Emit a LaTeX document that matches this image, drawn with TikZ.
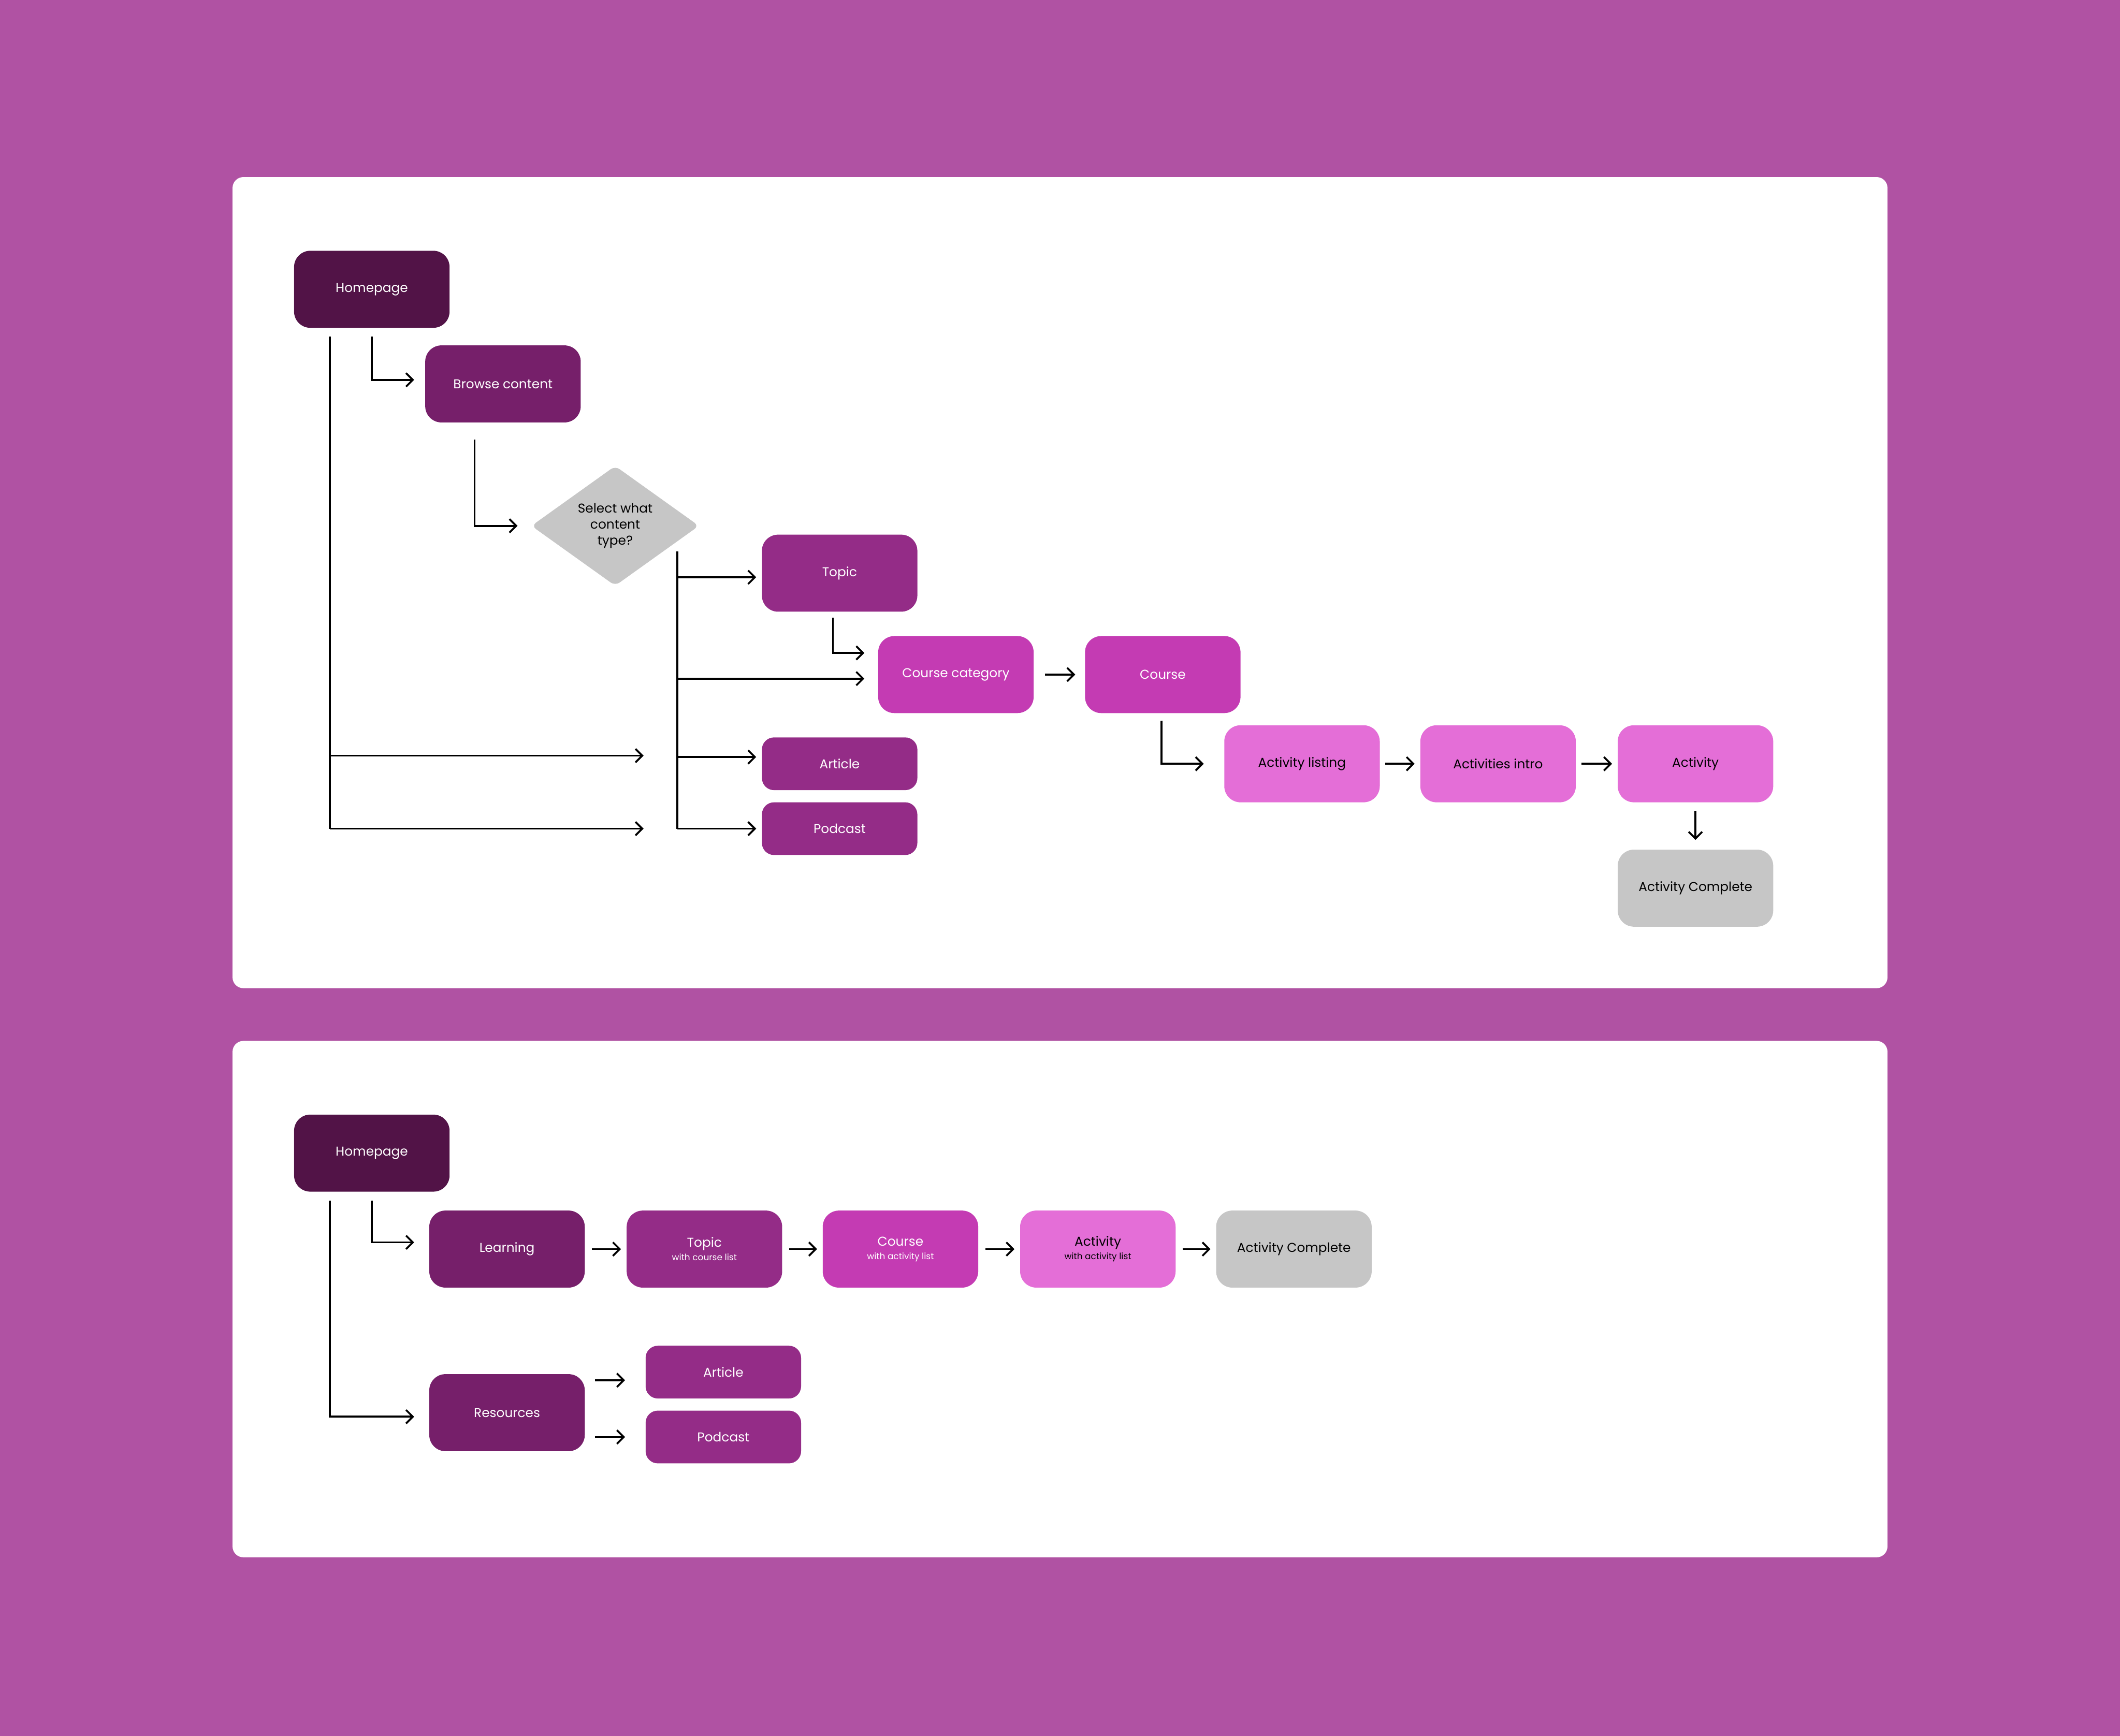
\documentclass[tikz,border=0pt]{standalone}
\usepackage{fontspec}
\setmainfont{Poppins}
\usetikzlibrary{arrows.meta,shapes.geometric}
\definecolor{bgp}{HTML}{B052A3}
\definecolor{cA}{HTML}{521347}
\definecolor{cB}{HTML}{761F6A}
\definecolor{cC}{HTML}{942C87}
\definecolor{cD}{HTML}{C43BB3}
\definecolor{cE}{HTML}{E46ED7}
\definecolor{cG}{HTML}{C6C6C6}
\tikzset{
 box/.style={rounded corners=12pt,minimum width=115pt,minimum height=57pt,inner sep=2pt,align=center,font=\fontsize{9.5}{11}\selectfont,text=white},
 sbox/.style={box,minimum height=39pt,rounded corners=9pt},
 lk/.style={line width=1.4pt,black},
 ar/.style={lk,-{Straight Barb[length=5pt,width=10pt]}},
 sub/.style={font=\fontsize{6.5}{8}\selectfont}
}
\begin{document}
\begin{tikzpicture}[x=1pt,y=-1pt]
\fill[bgp] (0,0) rectangle (1568,1284);
\useasboundingbox (0,0) rectangle (1568,1284);
\fill[white,rounded corners=8pt] (172,131) rectangle (1396,731);
\fill[white,rounded corners=8pt] (172,770) rectangle (1396,1152);
% panel 1
\node[box,fill=cA] (hp) at (275,214) {Homepage};
\node[box,fill=cB] (bc) at (372,284) {Browse content};
\node[diamond,fill=cG,minimum width=124pt,minimum height=86pt,inner sep=0pt,align=center,font=\fontsize{9.5}{12}\selectfont,rounded corners=4pt] (dm) at (455,389) {Select what\\content\\type?};
\node[box,fill=cC] (tp) at (621,424) {Topic};
\node[box,fill=cD] (cc) at (707,499) {Course category};
\node[box,fill=cD] (co) at (860,499) {Course};
\node[sbox,fill=cC] (ar1) at (621,565) {Article};
\node[sbox,fill=cC] (pc1) at (621,613) {Podcast};
\node[box,fill=cE,text=black] (al) at (963,565) {Activity listing};
\node[box,fill=cE,text=black] (ai) at (1108,565) {Activities intro};
\node[box,fill=cE,text=black] (ac) at (1254,565) {Activity};
\node[box,fill=cG,text=black] (acp) at (1254,657) {Activity Complete};
\coordinate (f1) at (476,559);
\coordinate (f2) at (476,613);
\draw[ar] (275,249) -- (275,281) -- ([xshift=-8pt]bc.west |- 0,281);
\draw[lk] (244,249) -- (244,613);
\draw[ar] (244,559) -- (f1);
\draw[ar] (244,613) -- (f2);
\draw[ar] (351,325) -- (351,389) -- ([xshift=-10pt]dm.west);
\draw[lk] (501,408) -- (501,613);
\draw[ar] (501,427) -- ([xshift=-4pt]tp.west |- 0,427);
\draw[ar] (501,502) -- ([xshift=-10pt]cc.west |- 0,502);
\draw[ar] (501,560) -- ([xshift=-4pt]ar1.west |- 0,560);
\draw[ar] (501,613) -- ([xshift=-4pt]pc1.west);
\draw[ar] (616,457) -- (616,483) -- ([xshift=-10pt]cc.west |- 0,483);
\draw[ar] ([xshift=8pt]cc.east) -- ([xshift=-7pt]co.west);
\draw[ar] (859,533) -- (859,565) -- ([xshift=-15pt]al.west);
\draw[ar] ([xshift=4pt]al.east) -- ([xshift=-4pt]ai.west);
\draw[ar] ([xshift=4pt]ai.east) -- ([xshift=-4pt]ac.west);
\draw[ar] ([yshift=-6pt]ac.south) -- ([yshift=7pt]acp.north);
% panel 2
\node[box,fill=cA] (hp2) at (275,853) {Homepage};
\node[box,fill=cB] (ln) at (375,924) {Learning};
\node[box,fill=cC] (tp2) at (521,924) {Topic\\[-1pt]{\fontsize{6.5}{8}\selectfont with course list}};
\node[box,fill=cD] (co2) at (666,924) {Course\\[-1pt]{\fontsize{6.5}{8}\selectfont with activity list}};
\node[box,fill=cE,text=black] (ac2) at (812,924) {Activity\\[-1pt]{\fontsize{6.5}{8}\selectfont with activity list}};
\node[box,fill=cG,text=black] (acp2) at (957,924) {Activity Complete};
\node[box,fill=cB] (rs) at (375,1045) {Resources};
\node[sbox,fill=cC] (ar2) at (535,1015) {Article};
\node[sbox,fill=cC] (pc2) at (535,1063) {Podcast};
\draw[ar] (275,888) -- (275,919) -- ([xshift=-11pt]ln.west |- 0,919);
\draw[ar] (244,888) -- (244,1048) -- ([xshift=-11pt]rs.west |- 0,1048);
\draw[ar] ([xshift=5pt]ln.east) -- ([xshift=-4pt]tp2.west);
\draw[ar] ([xshift=5pt]tp2.east) -- ([xshift=-4pt]co2.west);
\draw[ar] ([xshift=5pt]co2.east) -- ([xshift=-4pt]ac2.west);
\draw[ar] ([xshift=5pt]ac2.east) -- ([xshift=-4pt]acp2.west);
\draw[ar] (440,1021) -- ([xshift=-15pt]ar2.west |- 0,1021);
\draw[ar] (440,1063) -- ([xshift=-15pt]pc2.west);
\end{tikzpicture}
\end{document}
